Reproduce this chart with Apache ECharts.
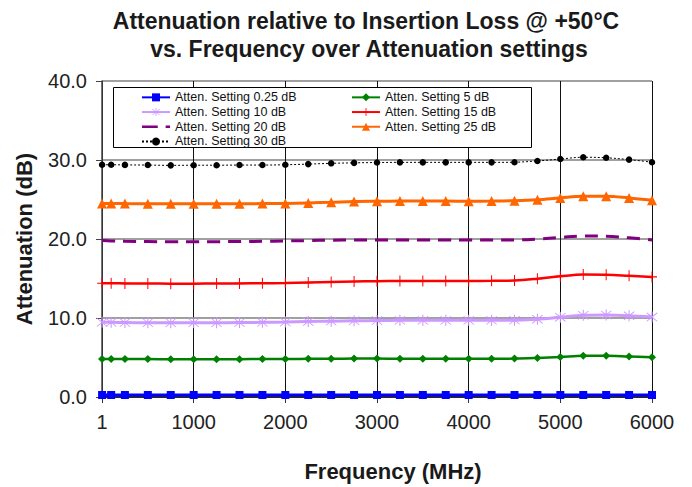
<!DOCTYPE html>
<html>
<head>
<meta charset="utf-8">
<script src="https://cdn.jsdelivr.net/npm/echarts@6/dist/echarts.min.js"></script>
<style>
html,body{margin:0;padding:0;background:#fff;}
#chart{width:692px;height:487px;}
</style>
</head>
<body>
<div id="chart"></div>
<script>
// ---- data ----
var frequencies = [1,100,250,500,750,1000,1250,1500,1750,2000,2250,2500,2750,3000,3250,3500,3750,4000,4250,4500,4750,5000,5250,5500,5750,6000];
var atten025 = [0.25,0.25,0.25,0.25,0.25,0.25,0.25,0.25,0.25,0.25,0.25,0.25,0.25,0.25,0.25,0.25,0.25,0.25,0.25,0.25,0.25,0.25,0.25,0.25,0.25,0.25];
var atten5   = [4.82,4.82,4.81,4.80,4.79,4.79,4.79,4.79,4.80,4.80,4.83,4.85,4.86,4.86,4.85,4.85,4.85,4.85,4.85,4.86,4.94,5.06,5.22,5.22,5.12,5.02];
var atten10  = [9.45,9.45,9.42,9.40,9.40,9.40,9.40,9.42,9.45,9.48,9.55,9.60,9.65,9.68,9.70,9.70,9.70,9.70,9.70,9.73,9.85,10.10,10.35,10.38,10.28,10.12];
var atten15  = [14.40,14.40,14.38,14.36,14.35,14.35,14.36,14.38,14.40,14.42,14.48,14.55,14.62,14.66,14.68,14.68,14.68,14.68,14.70,14.75,14.98,15.28,15.50,15.48,15.35,15.20];
var atten20  = [19.80,19.76,19.72,19.68,19.65,19.65,19.66,19.68,19.70,19.75,19.80,19.85,19.87,19.87,19.87,19.87,19.87,19.87,19.87,19.88,20.00,20.20,20.38,20.35,20.15,19.88];
var atten25  = [24.50,24.50,24.48,24.47,24.45,24.45,24.46,24.47,24.48,24.50,24.57,24.65,24.75,24.78,24.80,24.80,24.80,24.78,24.80,24.85,24.97,25.20,25.40,25.42,25.20,24.90];
var atten30  = [29.40,29.40,29.38,29.36,29.32,29.34,29.34,29.36,29.36,29.40,29.48,29.58,29.64,29.68,29.70,29.70,29.70,29.70,29.70,29.72,29.88,30.12,30.35,30.28,30.05,29.72];
var seriesNames = ['Atten. Setting 0.25 dB','Atten. Setting 5 dB','Atten. Setting 10 dB','Atten. Setting 15 dB','Atten. Setting 20 dB','Atten. Setting 25 dB','Atten. Setting 30 dB'];
var xTicks = {min:0, max:6000, interval:1000};
var yTicks = {min:0, max:40, interval:10};
var titleLines = ['Attenuation relative to Insertion Loss @ +50°C','vs. Frequency over Attenuation settings'];

function pairs(vals){ return frequencies.map(function(f,i){ return [f, vals[i]]; }); }

var FONT = '"Liberation Sans", Arial, sans-serif';
var plusPath = 'path://M9,0 h2 v20 h-2 z M0,9 h20 v2 h-20 z';
var starPath = 'path://M9.2,0 h1.6 v20 h-1.6 z M1.9,2.9 L2.9,1.9 L18.1,17.1 L17.1,18.1 z M17.1,1.9 L18.1,2.9 L2.9,18.1 L1.9,17.1 z';
var dashIcon = 'path://M0,0 h18 v3 h-18 z M27,0 h5 v3 h-5 z';

function mk(name, vals, color, width, symbol, size, extraLine){
  var ls = {color: color, width: width};
  if (extraLine) for (var k in extraLine) ls[k] = extraLine[k];
  return {
    name: name, type: 'line', data: pairs(vals), smooth: 0.35,
    symbol: symbol, symbolSize: size, showAllSymbol: true,
    lineStyle: ls,
    itemStyle: {color: color, borderWidth: 0},
    emphasis: {disabled: true}
  };
}

var legendCommon = {
  orient: 'vertical', top: 90, padding: 0, itemWidth: 28, itemHeight: 10, itemGap: 0, z: 5,
  textStyle: {fontFamily: FONT, fontSize: 12.5, color: '#111', lineHeight: 14.7, height: 14.7}
};

var chart = echarts.init(document.getElementById('chart'), null, {renderer: 'svg'});
chart.setOption({
  animation: false,
  backgroundColor: '#fff',
  grid: {left: 102, right: 40, top: 81, bottom: 90, containLabel: false},
  graphic: [
    {type: 'text', x: 366, y: 32.5, z: 10, style: {text: titleLines[0], font: 'bold 23px ' + FONT, fill: '#1a1a1a', textAlign: 'center', textVerticalAlign: 'bottom'}},
    {type: 'text', x: 369, y: 60, z: 10, style: {text: titleLines[1], font: 'bold 23px ' + FONT, fill: '#1a1a1a', textAlign: 'center', textVerticalAlign: 'bottom'}},
    {type: 'rect', z: 3, shape: {x: 113.5, y: 87.5, width: 418, height: 60}, style: {fill: '#fff', stroke: '#000', lineWidth: 1}}
  ],
  legend: [
    Object.assign({}, legendCommon, {left: 141,
      data: [seriesNames[0], seriesNames[2], {name: seriesNames[4], icon: dashIcon}, seriesNames[6]]}),
    Object.assign({}, legendCommon, {left: 351,
      data: [seriesNames[1], seriesNames[3], seriesNames[5]]})
  ],
  xAxis: {
    type: 'value', min: xTicks.min, max: xTicks.max, interval: xTicks.interval,
    name: 'Frequency (MHz)', nameLocation: 'middle', nameGap: 63,
    nameTextStyle: {fontFamily: FONT, fontSize: 22, fontWeight: 'bold', color: '#1a1a1a', padding: [0, 0, 0, 32]},
    axisLine: {onZero: false, lineStyle: {color: '#000', width: 1.5}},
    axisTick: {show: true, length: 6, lineStyle: {color: '#333', width: 1}},
    axisLabel: {fontFamily: FONT, fontSize: 20, color: '#222', margin: 15,
      formatter: function(v){ return v === 0 ? '1' : String(v); }},
    splitLine: {show: true, lineStyle: {color: '#111', width: 1}}
  },
  yAxis: {
    type: 'value', min: yTicks.min, max: yTicks.max, interval: yTicks.interval,
    name: 'Attenuation (dB)', nameLocation: 'middle', nameGap: 67,
    nameTextStyle: {fontFamily: FONT, fontSize: 22, fontWeight: 'bold', color: '#1a1a1a'},
    axisLine: {show: true, lineStyle: {color: '#444', width: 1.5}},
    axisTick: {show: true, length: 6, lineStyle: {color: '#444', width: 1}},
    axisLabel: {fontFamily: FONT, fontSize: 20, color: '#222', margin: 15,
      formatter: function(v){ return v.toFixed(1); }},
    splitLine: {show: true, lineStyle: {color: '#808080', width: 1.5}}
  },
  series: [
    mk(seriesNames[0], atten025, '#0000ff', 3, 'rect', 8),
    mk(seriesNames[1], atten5, '#008000', 2.5, 'diamond', 8),
    mk(seriesNames[2], atten10, '#cc99ff', 3, starPath, 11),
    mk(seriesNames[3], atten15, '#ff0000', 2.5, plusPath, [10, 11]),
    mk(seriesNames[4], atten20, '#800080', 3, 'none', 0, {type: [13, 8]}),
    mk(seriesNames[5], atten25, '#ff6600', 3, 'triangle', 10),
    mk(seriesNames[6], atten30, '#000000', 1, 'circle', 6.5, {type: [2, 2]})
  ]
});
</script>
</body>
</html>
